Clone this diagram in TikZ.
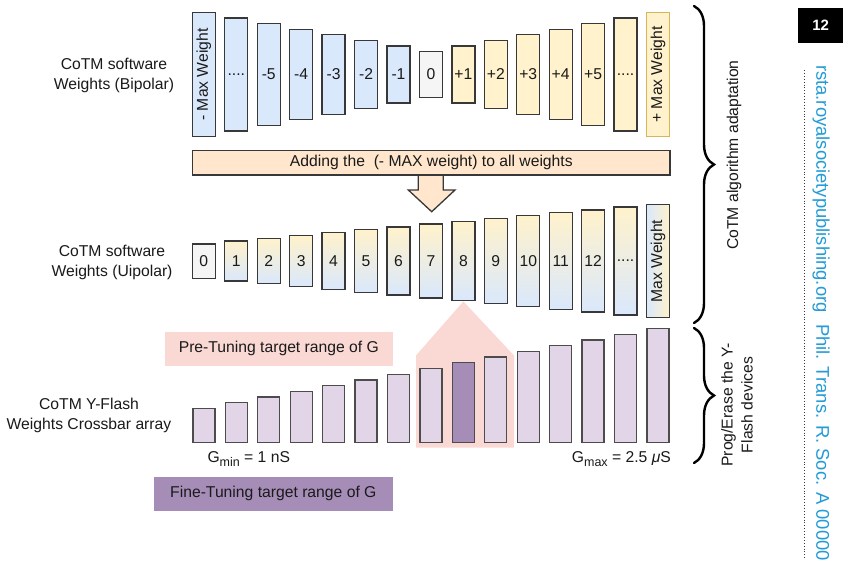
\documentclass[tikz,border=0pt]{standalone}
\usepackage{fontspec}
\setmainfont{Liberation Sans}
\usetikzlibrary{decorations.pathreplacing,shapes.geometric}
\definecolor{bluef}{HTML}{DAE8FC}
\definecolor{ylwf}{HTML}{FFF2CC}
\definecolor{greyf}{HTML}{F5F5F5}
\definecolor{goldb}{HTML}{D6B656}
\definecolor{peach}{HTML}{FFE6CC}
\definecolor{lav}{HTML}{E1D5E7}
\definecolor{purp}{HTML}{A68DB7}
\definecolor{pinkf}{HTML}{FAD9D5}
\definecolor{bluetxt}{HTML}{229BD6}
\definecolor{strk}{HTML}{383838}
\definecolor{txt}{HTML}{1A1A1A}
\newcommand\fourdots{....}
\newcommand\mysub[1]{\raisebox{-0.42ex}{\fontsize{12.5}{12.5}\selectfont #1}}
\tikzset{
  every node/.style={font=\fontsize{15.7}{20}\selectfont, text=txt},
  boxw/.style={draw=strk, line width=1.3pt, rectangle, inner sep=0pt, minimum width=23pt},
  gradbox/.style={boxw, top color=ylwf, bottom color=bluef},
  lavbox/.style={draw=strk!90, line width=1.3pt, rectangle, inner sep=0pt, minimum width=22pt, fill=lav, anchor=south},
  sidelbl/.style={align=center},
  brc/.style={decorate, decoration={brace, amplitude=20pt}, line width=2.4pt, line cap=round, draw=black},
}
\begin{document}
\begin{tikzpicture}[x=1pt,y=-1pt]
\useasboundingbox (0,0) rectangle (848,560);
\fill[white] (0,0) rectangle (848,560);

% ---------- Top row (bipolar) ----------
\node[boxw, fill=bluef, rotate=90, minimum width=124.4pt, minimum height=23pt] (t0) at (203.85,74.5) {- Max Weight};
\foreach \i/\t in {1/\fourdots,2/-5,3/-4,4/-3,5/-2,6/-1}
  \node[boxw, fill=bluef, minimum height={(45.6+11.26*(7-\i))*1pt}] (t\i) at ({203.85+32.44*\i},74.5) {\t};
\node[boxw, fill=greyf, minimum height=45.6pt] (t7) at ({203.85+32.44*7},74.5) {0};
\foreach \i/\t in {8/+1,9/+2,10/+3,11/+4,12/+5,13/\fourdots}
  \node[boxw, fill=ylwf, minimum height={(45.6+11.26*(\i-7))*1pt}] (t\i) at ({203.85+32.44*\i},74.5) {\t};
\node[boxw, draw=goldb, fill=ylwf, rotate=90, minimum width=124.4pt, minimum height=23pt] (t14) at ({203.85+32.44*14},74.5) {+ Max Weight};

\node[sidelbl] (lblTop) at (114,75.5) {CoTM software\\Weights (Bipolar)};

% ---------- Transformation bar and arrow ----------
\draw[draw=strk, line width=1.3pt, fill=peach] (418.3,172) -- (418.3,190) -- (408.3,190) -- (431.7,211.7) -- (455,190) -- (443.3,190) -- (443.3,172) -- cycle;
\node[boxw, fill=peach, minimum width=477.3pt, minimum height=24.3pt] (bar) at (431.35,162.85) {Adding the \ (- MAX weight) to all weights};

% ---------- Middle row (unipolar) ----------
\node[boxw, fill=greyf, minimum height=34.3pt] (m0) at (203.85,261) {0};
\foreach \i/\t in {1/1,2/2,3/3,4/4,5/5,6/6,7/7,8/8,9/9,10/10,11/11,12/12,13/\fourdots}
  \node[gradbox, minimum height={(34.3+5.65*\i)*1pt}] (m\i) at ({203.85+32.44*\i},261) {\t};
\node[gradbox, rotate=90, minimum width=113.4pt, minimum height=23pt, left color=bluef, right color=ylwf] (m14) at ({203.85+32.44*14},261) {Max Weight};

\node[sidelbl] (lblMid) at (112,262.3) {CoTM software\\Weights (Uipolar)};

% ---------- Pre-tuning highlight ----------
\fill[pinkf] (416,447.7) -- (416,355.5) -- (m8.south) -- (514,355.5) -- (514,447.7) -- cycle;
\node[fill=pinkf, minimum width=227.7pt, minimum height=34pt, inner sep=0pt] (pre) at (278.85,348.7) {Pre-Tuning target range of G};

% ---------- Bottom row (Y-Flash) ----------
\foreach \i in {0,1,2,3,4,5,6,7,8,9,10,11,12,13,14}{
  \ifnum\i=8
    \node[lavbox, fill=purp, minimum height={(34.3+5.7*\i)*1pt}] (c\i) at ({203.85+32.44*\i},443.3) {};
  \else
    \node[lavbox, minimum height={(34.3+5.7*\i)*1pt}] (c\i) at ({203.85+32.44*\i},443.3) {};
  \fi
}
\node[sidelbl] (lblBot) at (89,415) {CoTM Y-Flash\\Weights Crossbar array};

\node[anchor=west, inner sep=0pt] (gmin) at (207.3,459) {G\mysub{min} = 1 nS};
\node[anchor=west, inner sep=0pt] (gmax) at (571.7,459) {G\mysub{max} = 2.5 {\itshape μ}S};

\node[fill=purp, minimum width=238.7pt, minimum height=34pt, inner sep=0pt] (fine) at (273.35,493.7) {Fine-Tuning target range of G};

% ---------- Braces ----------
\coordinate (b1s) at (694,6);
\coordinate (b1e) at (694,323);
\coordinate (b2s) at (694,328);
\coordinate (b2e) at (694,463);
\draw[brc] (b1s) -- (b1e);
\draw[brc] (b2s) -- (b2e);
\node[rotate=90] (alg) at (734,155) {CoTM algorithm adaptation};
\node[rotate=90, align=center] (prog) at (737,405) {Prog/Erase the Y-\\Flash devices};

% ---------- Page margin decoration ----------
\node[fill=black, minimum width=45pt, minimum height=34.4pt, inner sep=0pt, text=white, font=\fontsize{15}{18}\selectfont\bfseries] (pg) at (820.65,25.5) {12};
\coordinate (dtop) at (804.3,70);
\coordinate (dbot) at (804.3,560);
\draw[strk, line width=1pt, dash pattern=on 0.9pt off 2pt] (dtop) -- (dbot);
\node[rotate=-90, anchor=west, inner sep=0pt, text=bluetxt, font=\fontsize{18.4}{22}\selectfont] (jrnl) at (821,65) {rsta.royalsocietypublishing.org\hspace{0.63em}Phil. Trans. R. Soc. A 00000};
\end{tikzpicture}
\end{document}
